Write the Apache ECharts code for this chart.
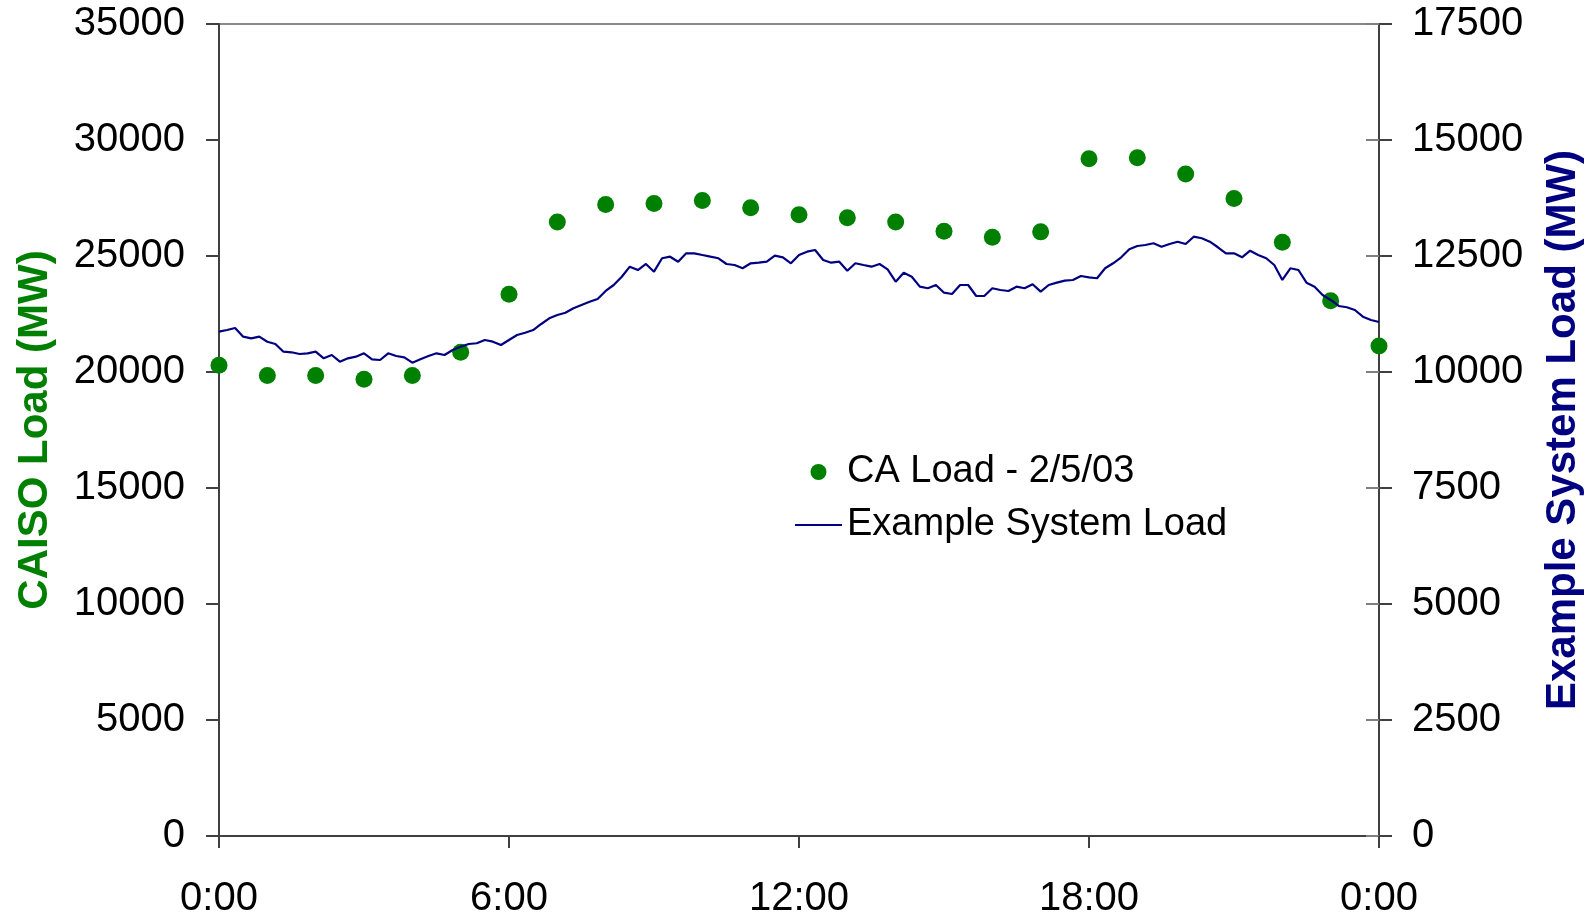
<!DOCTYPE html>
<html>
<head>
<meta charset="utf-8">
<title>CA Load vs Example System Load</title>
<script src="https://cdn.jsdelivr.net/npm/echarts@6/dist/echarts.min.js"></script>
<style>
  html, body { margin: 0; padding: 0; background: #fff; }
  #chart { width: 1596px; height: 914px; }
</style>
</head>
<body>
<div id="chart"></div>
<script>
// hourly CAISO load, 0:00 .. 24:00
const caHours = [0, 1, 2, 3, 4, 5, 6, 7, 8, 9, 10, 11, 12, 13, 14, 15, 16, 17, 18, 19, 20, 21, 22, 23, 24];
const caLoad = [20290, 19850, 19850, 19690, 19850, 20850, 23350, 26470, 27220, 27260, 27390, 27080,
  26780, 26650, 26470, 26070, 25810, 26040, 29190, 29230, 28530, 27480, 25590, 23070, 21120];

// example system load, one reading every 10 minutes from 0:00 to 24:00
const stepMinutes = 10;
const systemLoad = [
  10870, 10905, 10948, 10761, 10726, 10761, 10653, 10604, 10438, 10425, 10388, 10403,
  10438, 10295, 10367, 10222, 10295, 10330, 10403, 10274, 10259, 10403, 10345, 10317,
  10201, 10274, 10345, 10403, 10367, 10474, 10545, 10604, 10619, 10690, 10653, 10582,
  10690, 10798, 10847, 10905, 11035, 11157, 11229, 11278, 11373, 11444, 11515, 11573,
  11746, 11875, 12054, 12270, 12198, 12328, 12162, 12451, 12485, 12377, 12558, 12558,
  12522, 12485, 12451, 12328, 12306, 12235, 12343, 12356, 12377, 12507, 12472, 12343,
  12522, 12593, 12629, 12414, 12356, 12377, 12183, 12343, 12306, 12270, 12328, 12213,
  11946, 12140, 12054, 11839, 11804, 11875, 11709, 11681, 11875, 11875, 11638, 11638,
  11804, 11767, 11746, 11839, 11804, 11890, 11731, 11875, 11925, 11968, 11983, 12069,
  12041, 12020, 12235, 12343, 12472, 12645, 12716, 12737, 12774, 12701, 12759, 12808,
  12759, 12916, 12882, 12808, 12688, 12558, 12558, 12472, 12614, 12522, 12451, 12306,
  11983, 12235, 12198, 11925, 11839, 11660, 11552, 11423, 11395, 11336, 11192, 11121,
  11078
];

const leftTicks = { min: 0, max: 35000, interval: 5000 };
const rightTicks = { min: 0, max: 17500, interval: 2500 };
const hourTicks = { min: 0, max: 24, interval: 6 };

const FONT = "'Liberation Sans', Arial, sans-serif";
const AXIS_COLOR = '#404040';

const caPoints = caHours.map((h, i) => [h, caLoad[i]]);
const sysPoints = systemLoad.map((v, i) => [i * stepMinutes / 60, v]);

const plain = v => String(v);

const chart = echarts.init(document.getElementById('chart'), null, { renderer: 'canvas' });

chart.setOption({
  animation: false,
  backgroundColor: '#fff',
  textStyle: { fontFamily: FONT },
  grid: {
    left: 219, right: 217, top: 24, bottom: 78,
    outerBoundsMode: 'none',
    containLabel: false,
    show: true, borderColor: '#888', borderWidth: 2, backgroundColor: 'transparent'
  },
  legend: {
    orient: 'vertical',
    left: 790,
    top: 448,
    itemWidth: 47,
    itemHeight: 16,
    itemGap: 15,
    textStyle: { fontFamily: FONT, fontSize: 38, color: '#000' },
    data: [
      { name: 'CA Load - 2/5/03', icon: 'circle' },
      { name: 'Example System Load', icon: 'path://M0,7 L47,7 L47,9 L0,9 Z' }
    ]
  },
  xAxis: {
    type: 'value',
    min: hourTicks.min, max: hourTicks.max, interval: hourTicks.interval,
    splitLine: { show: false },
    axisLine: { lineStyle: { color: AXIS_COLOR, width: 2 } },
    axisTick: { length: 12, lineStyle: { color: AXIS_COLOR, width: 2 } },
    axisLabel: {
      margin: 43, fontSize: 40, color: '#000', fontFamily: FONT,
      formatter: v => (v % 24) + ':00'
    }
  },
  yAxis: [
    {
      type: 'value', position: 'left',
      min: leftTicks.min, max: leftTicks.max, interval: leftTicks.interval,
      name: 'CAISO Load (MW)', nameLocation: 'middle', nameGap: 163, nameRotate: 90,
      nameTextStyle: { color: '#008000', fontSize: 42, fontWeight: 'bold', fontFamily: FONT },
      splitLine: { show: false },
      axisLine: { show: true, lineStyle: { color: AXIS_COLOR, width: 2 } },
      axisTick: { show: true, length: 13, lineStyle: { color: AXIS_COLOR, width: 2 } },
      axisLabel: { margin: 34, fontSize: 40, color: '#000', fontFamily: FONT, formatter: plain }
    },
    {
      type: 'value', position: 'right',
      min: rightTicks.min, max: rightTicks.max, interval: rightTicks.interval,
      name: 'Example System Load (MW)', nameLocation: 'middle', nameGap: 163, nameRotate: 90,
      nameTextStyle: { color: '#000080', fontSize: 42, fontWeight: 'bold', fontFamily: FONT },
      splitLine: { show: false },
      axisLine: { show: true, lineStyle: { color: AXIS_COLOR, width: 2 } },
      axisTick: { show: true, length: 13, lineStyle: { color: AXIS_COLOR, width: 2 } },
      axisLabel: { margin: 33, fontSize: 40, color: '#000', fontFamily: FONT, formatter: plain }
    },
    {
      // inner half of the crossing ticks on the right axis
      type: 'value', position: 'right',
      min: rightTicks.min, max: rightTicks.max, interval: rightTicks.interval,
      splitLine: { show: false },
      axisLine: { show: false },
      axisTick: { show: true, inside: true, length: 13, lineStyle: { color: '#808080', width: 2 } },
      axisLabel: { show: false }
    }
  ],
  series: [
    {
      name: 'CA Load - 2/5/03',
      type: 'scatter',
      yAxisIndex: 0,
      symbol: 'circle',
      symbolSize: 17,
      itemStyle: { color: '#008000', opacity: 1 },
      data: caPoints
    },
    {
      name: 'Example System Load',
      type: 'line',
      yAxisIndex: 1,
      symbol: 'none',
      showSymbol: false,
      lineStyle: { color: '#000080', width: 2.2 },
      itemStyle: { color: '#000080' },
      data: sysPoints
    }
  ]
});
</script>
</body>
</html>
